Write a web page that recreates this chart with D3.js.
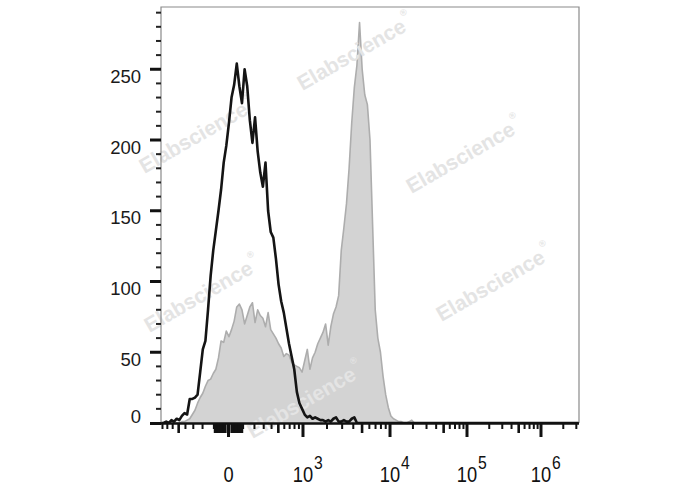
<!DOCTYPE html>
<html><head><meta charset="utf-8">
<script src="https://cdn.jsdelivr.net/npm/d3@7"></script>
<style>body{margin:0;background:#fff}svg{display:block}</style>
</head><body>
<svg id="chart" width="688" height="490"></svg>
<script>
(function(){
// ---------------- data ----------------
const channelCount = 160;                       // display channels across the x axis
const unstainedCounts = [0,0,1,0,2,1,3,2,5,7,6,17,17,18,20,36,52,58,80,104,122,136,150,165,184,196,212,230,239,254,238,226,250,238,214,198,216,192,177,167,184,150,135,131,116,98,86,78,67,56,47,38,22,14,10,6,4,5,3,4,3,2,2,1,2,1,3,4,1,1,2,1,1,3,4,0];
const stainedCounts = [0,0,0,0,0,0,0,0,1,1,2,3,6,9,14,18,21,26,30,31,35,38,46,58,57,65,61,66,72,82,84,80,70,76,82,85,71,80,76,74,68,78,66,63,60,56,53,47,49,48,43,41,40,39,36,44,52,38,46,50,56,60,64,70,55,68,77,82,90,122,138,155,180,212,237,253,283,250,232,225,200,140,80,60,50,33,20,11,5,3,2,1,1,0,0,1,2,0];
const yMajorTicks = [0,50,100,150,200,250];
const yMinorTicks = [10,20,30,40,60,70,80,90,110,120,130,140,160,170,180,190,210,220,230,240,260,270,280,290];
const xMajorTicks = [0,1e3,1e4,1e5,1e6];
const xMajorBase = ["0","10","10","10","10"];
const xMajorExp = ["","3","4","5","6"];
const xDecades = [10,100,1e3,1e4,1e5,1e6];
const xMinorMultipliers = [1,2,3,4,6,7,8,9];
const xMidMultiplier = 5;
const yMax = 294;
const watermarkText = "Elabscience";

// ---------------- scales ----------------
const pL = 161, pR = 579, pT = 7, pB = 423;
const svg = d3.select("#chart");
const xScale = d3.scaleLinear().domain([0, channelCount]).range([pL, pR]);
const yScale = d3.scaleLinear().domain([0, yMax]).range([pB, pT]);
// biexponential-like display transform: value -> display channel
const symlogT = v => Math.sign(v) * Math.log10(1 + Math.abs(v) / 300);
const anchorValues = [-1e3, 0, 1e3, 1e4, 1e5, 1e6];
const biex = d3.scaleLinear().domain(anchorValues.map(symlogT))
  .range([-2.68, 25.84, 54.35, 87.66, 117.13, 145.45]);
const xPos = v => xScale(biex(symlogT(v)));

const pad = arr => arr.concat(new Array(channelCount + 1 - arr.length).fill(0));
const grey = pad(stainedCounts), black = pad(unstainedCounts);

svg.append("defs").append("clipPath").attr("id","plot")
  .append("rect").attr("x",pL).attr("y",pT-3).attr("width",pR-pL).attr("height",pB-pT+3);

const plot = svg.append("g").attr("clip-path","url(#plot)");

const area = d3.area().x((d,i)=>xScale(i)).y0(yScale(0)).y1(d=>yScale(d));
const line = d3.line().x((d,i)=>xScale(i)).y(d=>yScale(d));
plot.append("path").datum(grey).attr("d",area).attr("fill","#d3d3d3");
plot.append("path").datum(grey).attr("d",line).attr("fill","none")
  .attr("stroke","#adadad").attr("stroke-width",1.6).attr("stroke-linejoin","round");

const font = "'Liberation Sans', Arial, sans-serif";
const wm = [[355,52],[197,135],[464,155],[202,294],[494,283],[305,400]];
wm.forEach(([cx,cy])=>{
  const t = svg.append("text")
    .attr("transform",`translate(${cx},${cy}) rotate(-30)`)
    .attr("text-anchor","middle").attr("dominant-baseline","central")
    .attr("font-family",font)
    .attr("font-weight","bold").attr("font-size",21).attr("fill","#e4e4e4")
    .text(watermarkText);
  t.append("tspan").attr("font-size",9).attr("dy",-10).attr("dx",2).text("®");
});

svg.append("g").attr("clip-path","url(#plot)").append("path").datum(black).attr("d",line)
  .attr("fill","none").attr("stroke","#141414").attr("stroke-width",2.6)
  .attr("stroke-linejoin","round");

// ---------------- frame ----------------
svg.append("path").attr("d",`M${pL},${pB}V${pT}H${pR}V${pB}`)
  .attr("fill","none").attr("stroke","#8a8a8a").attr("stroke-width",1.2);
svg.append("line").attr("x1",pL).attr("x2",pR).attr("y1",pB+0.5).attr("y2",pB+0.5)
  .attr("stroke","#111").attr("stroke-width",2.5);

// ---------------- y axis ----------------
const gy = svg.append("g");
gy.append("g").selectAll("line").data(yMinorTicks).join("line")
  .attr("x1",pL-5).attr("x2",pL).attr("y1",d=>yScale(d)).attr("y2",d=>yScale(d))
  .attr("stroke","#222").attr("stroke-width",2);
gy.append("g").selectAll("line").data(yMajorTicks).join("line")
  .attr("x1",pL-11).attr("x2",pL).attr("y1",d=>yScale(d)+(d===0?0.5:0)).attr("y2",d=>yScale(d)+(d===0?0.5:0))
  .attr("stroke","#111").attr("stroke-width",3);
gy.append("g").selectAll("text").data(yMajorTicks).join("text")
  .attr("x",141).attr("y",d=>yScale(d)+(d===0?-7:7))
  .attr("text-anchor","end").attr("dominant-baseline","central")
  .attr("font-family",font).attr("font-size",18.5)
  .attr("fill","#1a1a1a").text(d=>d);

// ---------------- x axis ----------------
const minorVals = [], nearZero = [], midVals = [];
xDecades.forEach(d=>{
  xMinorMultipliers.forEach(m=>{
    if (m===1 && d!==100) return;
    const list = d===10 ? nearZero : minorVals;
    list.push(m*d); if (d<=100) list.push(-m*d);
  });
  (d===10 ? nearZero : midVals).push(xMidMultiplier*d);
  if (d<=100) (d===10 ? nearZero : midVals).push(-xMidMultiplier*d);
});
const inside = v => { const p = xPos(v); return p>=pL-1 && p<=pR+1; };
const gx = svg.append("g");
const tick = (vals, len, w) => gx.append("g").selectAll("line").data(vals.filter(inside)).join("line")
  .attr("x1",d=>xPos(d)).attr("x2",d=>xPos(d)).attr("y1",pB).attr("y2",pB+len)
  .attr("stroke","#111").attr("stroke-width",w);
tick(minorVals, 6, 2);
tick(nearZero, 10, 2.8);
tick(midVals, 10, 2.6);
tick(xMajorTicks, 14, 3);

xMajorTicks.forEach((v,i)=>{
  const x = xPos(v);
  svg.append("text").attr("transform",`translate(${x},482) scale(0.85,1)`)
    .attr("text-anchor","middle").attr("font-family",font).attr("font-size",21.5)
    .attr("fill","#111").text(xMajorBase[i]);
  if (xMajorExp[i]) {
    svg.append("text").attr("transform",`translate(${x+11},469) scale(0.85,1)`)
      .attr("text-anchor","start").attr("font-family",font).attr("font-size",18.5)
      .attr("fill","#111").text(xMajorExp[i]);
  }
});
})();
</script>
</body></html>
